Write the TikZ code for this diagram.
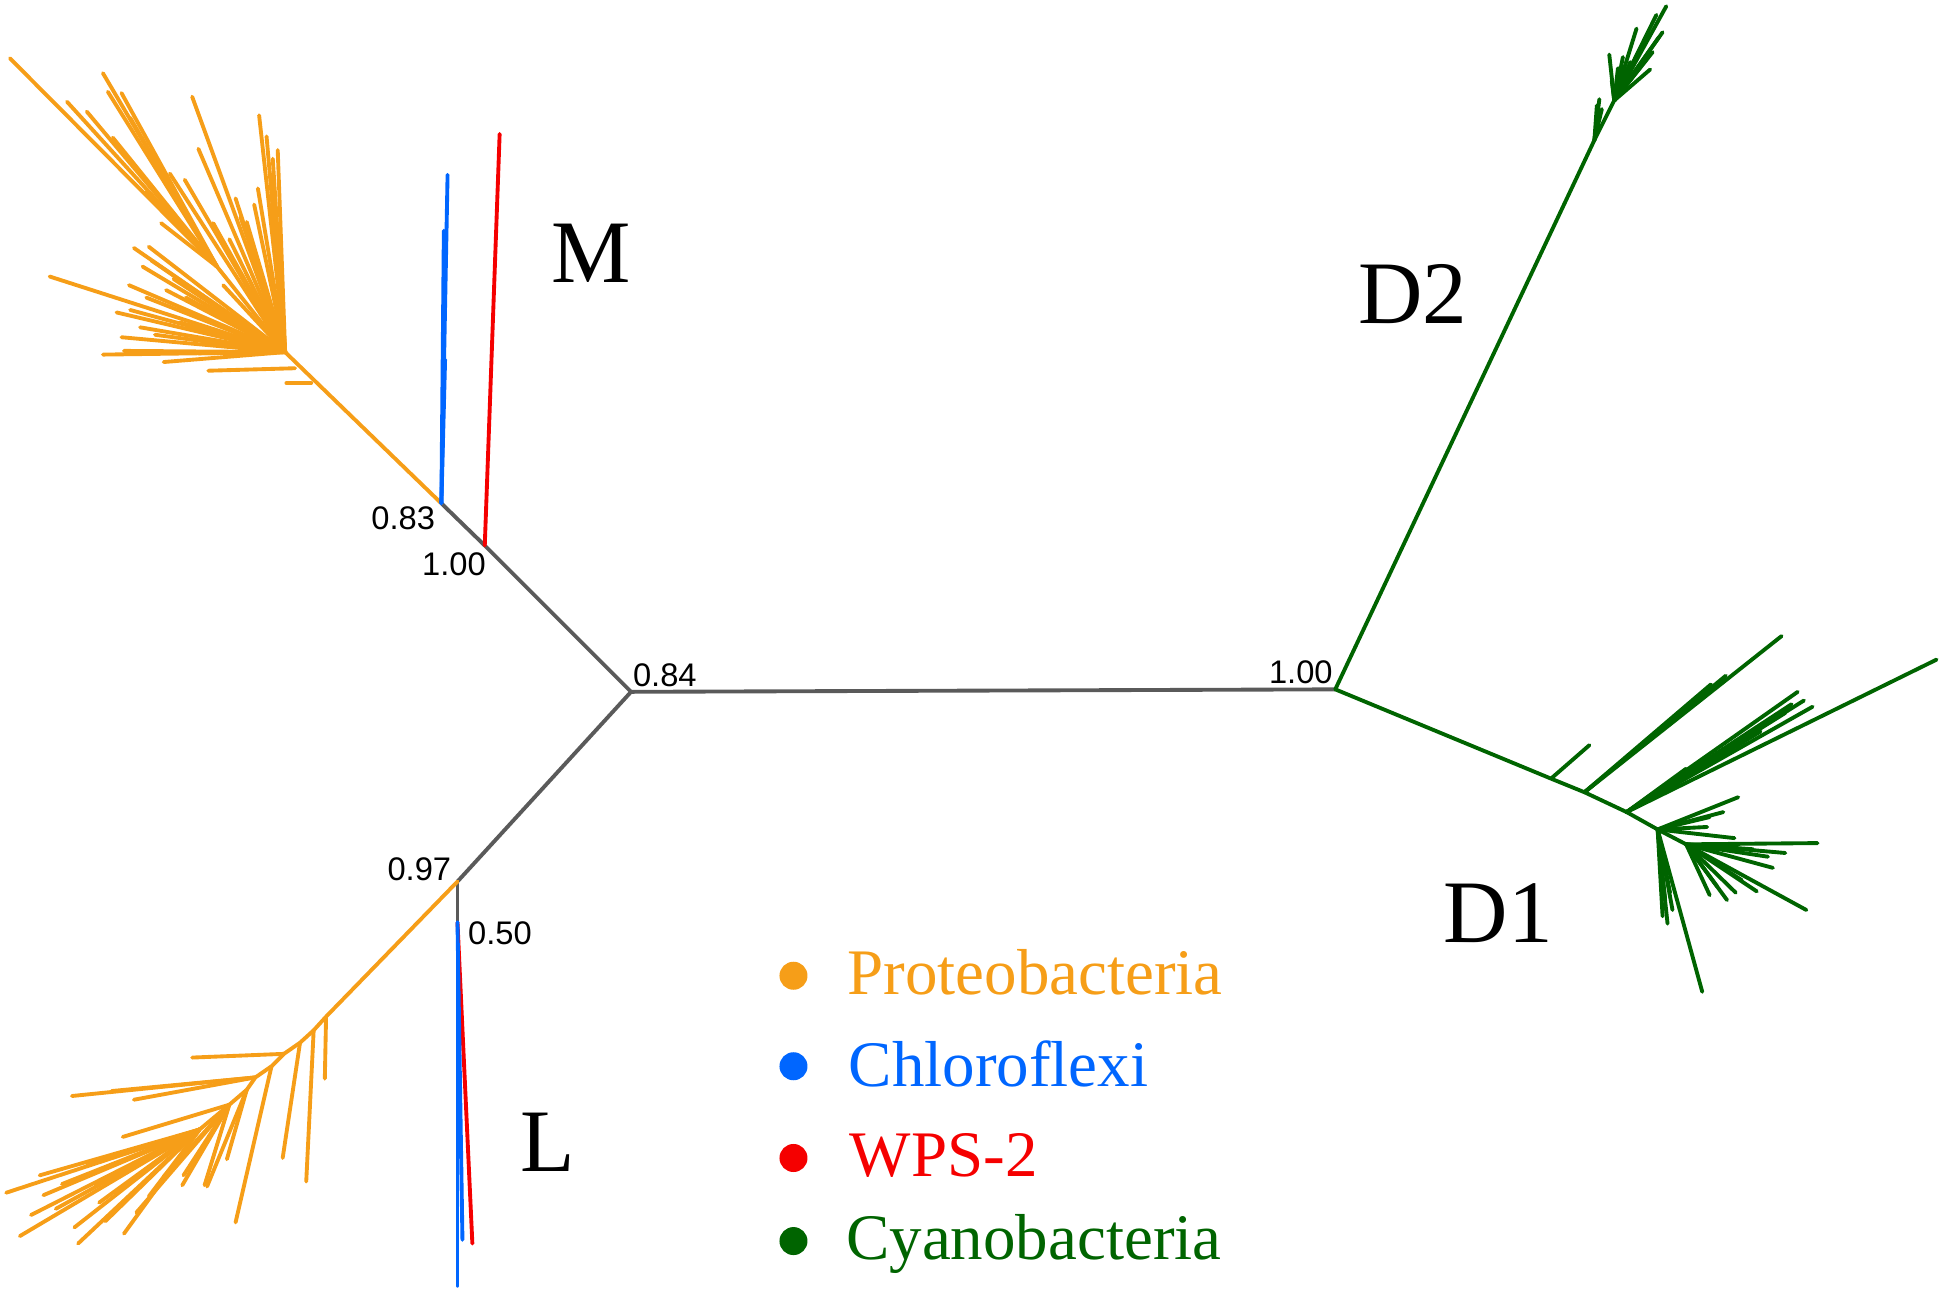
\documentclass[tikz,border=0pt]{standalone}
\usepackage{fontspec}
\setmainfont{Liberation Serif}
\newfontfamily\numfont{Liberation Sans}
\definecolor{cpro}{RGB}{246,158,24}
\definecolor{cchl}{RGB}{0,102,255}
\definecolor{cwps}{RGB}{245,0,0}
\definecolor{ccya}{RGB}{0,100,0}
\definecolor{cgry}{RGB}{90,90,90}
\begin{document}
\begin{tikzpicture}[x=0.0124cm,y=-0.0124cm,
  br/.style={line width=1.1pt,line cap=round,line join=round},
  pro/.style={br,draw=cpro},
  chl/.style={br,draw=cchl},
  wps/.style={br,draw=cwps},
  cya/.style={br,draw=ccya},
  gry/.style={br,draw=cgry},
  supp/.style={inner sep=0pt,anchor=base west,font=\numfont\fontsize{9.3}{11}\selectfont},
  clade/.style={inner sep=0pt,anchor=base west,font=\fontsize{25.4}{30}\selectfont},
  legtext/.style={inner sep=0pt,anchor=base west,font=\fontsize{18.5}{22}\selectfont},
  legdot/.style={circle,inner sep=0pt,minimum size=22.6*0.0124cm}]
\useasboundingbox (0,0) rectangle (1568,1042);
% ---- main nodes
\coordinate (C0) at (509,558);
\coordinate (NM1) at (391,440);
\coordinate (NM0) at (356,406);
\coordinate (NL0) at (369,711);
\coordinate (NL1) at (369,744);
\coordinate (NR) at (1077,556);
% ---- backbone
\draw[gry] (C0) -- (NR);
\draw[gry] (C0) -- (NM1);
\draw[gry] (NM1) -- (NM0);
\draw[gry] (C0) -- (NL0);
\draw[gry] (NL0) -- (NL1);
% ---- M clade: proteobacteria
\coordinate (H) at (230,284);
\coordinate (HA) at (175,215);
\coordinate (HS1) at (251,309);
\coordinate (HS2) at (238,297);
\coordinate (HS1t) at (231,309);
\coordinate (HS2t) at (168,299);
\draw[pro] (NM0) -- (H);
\draw[pro] (HS1) -- (HS1t);
\draw[pro] (HS2) -- (HS2t);
\draw[pro] (H) -- (HA);
\foreach [count=\i] \x/\y in {8/47,54/82,83/59,87/74,98/75,91/111,118/155,70/90,105/95,130/180}
  {\coordinate (mh\i) at (\x,\y); \draw[pro] (HA) -- (mh\i);}
\foreach [count=\i] \x/\y in {155/78,209/93,224/121,220/128,
  208/152,149/145,137/140,185/193,172/180,194/175,199/179,108/200,120/199,40/223,104/230,
  94/252,113/264,98/272,83/286,132/292,134/234,122/210,160/120,
  215/110,190/160,115/215,150/240,105/250,125/270,160/285,180/230,100/283,
  218/140,205/165,140/225,145/260,118/240}
  {\coordinate (mu\i) at (\x,\y); \draw[pro] (H) -- (mu\i);}
% ---- M clade: chloroflexi and WPS-2
\coordinate (MB1) at (361,141);
\coordinate (MB2) at (358,186);
\coordinate (MB3) at (359,290);
\coordinate (MR1) at (403,108);
\draw[chl] (NM0) -- (MB1);
\draw[chl] (NM0) -- (MB2);
\draw[chl] (NM0) -- (MB3);
\draw[wps] (NM1) -- (MR1);
% ---- L clade: proteobacteria
\coordinate (s1) at (263,820);
\coordinate (s2) at (253,831);
\coordinate (s3) at (242,841);
\coordinate (s4) at (229,850);
\coordinate (s5) at (219,860);
\coordinate (s6) at (206,869);
\coordinate (s7) at (199,879);
\coordinate (s8) at (185,891);
\coordinate (s9) at (161,911);
\draw[pro] (NL0) -- (s1) -- (s2) -- (s3) -- (s4) -- (s5) -- (s6) -- (s7) -- (s8) -- (s9);
\coordinate (t1) at (262,870);
\coordinate (t2) at (247,953);
\coordinate (t3) at (228,934);
\coordinate (t4) at (155,853);
\coordinate (t5) at (190,986);
\coordinate (t6a) at (58,884);
\coordinate (t6b) at (108,887);
\coordinate (t6c) at (90,880);
\coordinate (t7a) at (183,935);
\coordinate (t7b) at (167,957);
\draw[pro] (s1) -- (t1);
\draw[pro] (s2) -- (t2);
\draw[pro] (s3) -- (t3);
\draw[pro] (s4) -- (t4);
\draw[pro] (s5) -- (t5);
\draw[pro] (s6) -- (t6a);
\draw[pro] (s6) -- (t6b);
\draw[pro] (s6) -- (t6c);
\draw[pro] (s7) -- (t7a);
\draw[pro] (s7) -- (t7b);
\foreach [count=\i] \x/\y in {99/917,147/956,148/948,165/956,132/949,110/978}
  {\coordinate (la\i) at (\x,\y); \draw[pro] (s8) -- (la\i);}
\foreach [count=\i] \x/\y in {5/962,32/948,35/964,16/997,63/1003,77/956,93/962,60/990,
  45/975,85/985,120/965,70/940,100/995,50/955,80/970,25/980}
  {\coordinate (lb\i) at (\x,\y); \draw[pro] (s9) -- (lb\i);}
% ---- L clade: chloroflexi and WPS-2
\coordinate (LR1) at (381,1003);
\coordinate (LB1) at (369,1037);
\coordinate (LB2) at (373,1000);
\draw[wps] (NL1) -- (LR1);
\draw[chl] (NL1) -- (LB1);
\draw[chl] (NL1) -- (LB2);
% ---- D2 clade
\coordinate (T0) at (1286,113);
\coordinate (T1) at (1302,81);
\draw[cya] (NR) -- (T0) -- (T1);
\foreach [count=\i] \x/\y in {1288/85,1292/88,1290/80}
  {\coordinate (da\i) at (\x,\y); \draw[cya] (T0) -- (da\i);}
\foreach [count=\i] \x/\y in {1344/5,1341/26,1320/23,1333/42,1331/56,1298/44,1309/46,1300/65,
  1325/35,1315/50,1338/30,1318/60,1328/48,1305/55,1336/12}
  {\coordinate (db\i) at (\x,\y); \draw[cya] (T1) -- (db\i);}
% ---- D1 clade
\coordinate (n1) at (1251,628);
\coordinate (n2) at (1278,639);
\coordinate (n3) at (1312,655);
\coordinate (n4) at (1337,669);
\coordinate (n5) at (1360,681);
\draw[cya] (NR) -- (n1) -- (n2) -- (n3) -- (n4);
\coordinate (e1) at (1282,601);
\draw[cya] (n1) -- (e1);
\foreach [count=\i] \x/\y in {1437/513,1392/545,1380/552}
  {\coordinate (ea\i) at (\x,\y); \draw[cya] (n2) -- (ea\i);}
\foreach [count=\i] \x/\y in {1562/532,1450/558,1462/570,1455/565,1440/575,1360/620,1430/580,1445/568,1420/590}
  {\coordinate (eb\i) at (\x,\y); \draw[cya] (n3) -- (eb\i);}
\draw[cya] (n4) -- (n5);
\foreach [count=\i] \x/\y in {1402/643,1379/659,1377/667,1399/676,1390/655,1341/739,1373/800,1349/734,1345/745,1343/725,1347/720}
  {\coordinate (ec\i) at (\x,\y); \draw[cya] (n4) -- (ec\i);}
\foreach [count=\i] \x/\y in {1466/680,1426/691,1414/685,1457/734,1417/719,1393/726,1379/722,1430/700,1405/710,1385/715,1440/688,1400/720}
  {\coordinate (ed\i) at (\x,\y); \draw[cya] (n5) -- (ed\i);}
% ---- support values
\node[supp] (v084) at (510,554) {0.84};
\node[supp] (v083) at (299,427) {0.83};
\node[supp] (v100m) at (340,464) {1.00};
\node[supp] (v097) at (312,710) {0.97};
\node[supp] (v050) at (377,762) {0.50};
\node[supp] (v100r) at (1023,551) {1.00};
% ---- clade labels
\node[clade] (lM) at (444,228) {M};
\node[clade] (lD2) at (1095,261) {D2};
\node[clade] (lL) at (419,945) {L};
\node[clade] (lD1) at (1164,760) {D1};
% ---- legend
\node[legdot,fill=cpro] (d1) at (640,787) {};
\node[legdot,fill=cchl] (d2) at (640,860) {};
\node[legdot,fill=cwps] (d3) at (640,934) {};
\node[legdot,fill=ccya] (d4) at (640,1001) {};
\node[legtext,text=cpro] (g1) at (683,802) {Proteobacteria};
\node[legtext,text=cchl] (g2) at (684,876) {Chloroflexi};
\node[legtext,text=cwps] (g3) at (685,949) {WPS-2};
\node[legtext,text=ccya] (g4) at (682,1016) {Cyanobacteria};
\end{tikzpicture}
\end{document}
